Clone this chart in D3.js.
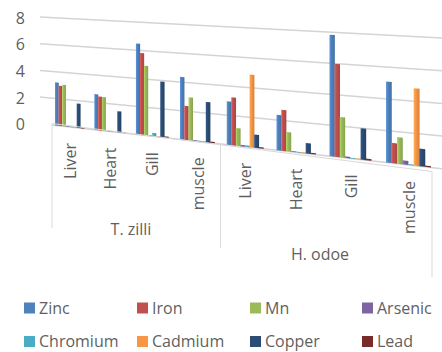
<!DOCTYPE html>
<html>
<head>
<meta charset="utf-8">
<script src="https://cdn.jsdelivr.net/npm/d3@7"></script>
<style>
  html, body { margin: 0; padding: 0; background: #fff; }
  svg { display: block; }
  text { font-family: "Open Sans", "Noto Sans", sans-serif; fill: #5f5f5f; }
</style>
</head>
<body>
<svg id="chart" width="442" height="352"></svg>
<script>
// ---- data ----
const speciesNames = ["T. zilli", "H. odoe"];
const organNames = ["Liver", "Heart", "Gill", "muscle"];
const seriesNames = ["Zinc", "Iron", "Mn", "Arsenic", "Chromium", "Cadmium", "Copper", "Lead"];
const seriesColors = ["#4f81bd", "#c0504d", "#9bbb59", "#8064a2", "#4bacc6", "#f79646", "#2c4d75", "#772c2a"];
const yTicks = [0, 2, 4, 6, 8];

// values per metal, one entry per organ (T. zilli Liver..muscle, then H. odoe Liver..muscle)
const zinc     = [3.20, 2.60, 6.48, 4.35, 2.94, 2.34, 7.83, 5.08];
const iron     = [2.97, 2.45, 5.82, 2.36, 3.24, 2.71, 5.98, 1.27];
const mn       = [3.07, 2.44, 4.94, 2.98, 1.19, 1.27, 2.59, 1.66];
const arsenic  = [0.05, 0.05, 0.05, 0.05, 0.10, 0.05, 0.10, 0.25];
const chromium = [0.05, 0.05, 0.25, 0.05, 0.10, 0.05, 0.05, 0.05];
const cadmium  = [0.05, 0.05, 0.05, 0.05, 4.87, 0.05, 0.05, 4.79];
const copper   = [1.79, 1.52, 3.92, 2.77, 0.88, 0.68, 2.00, 1.09];
const lead     = [0.08, 0.08, 0.10, 0.08, 0.08, 0.08, 0.10, 0.08];
const seriesValues = [zinc, iron, mn, arsenic, chromium, cadmium, copper, lead];

// categories: organ within species
const categories = [];
speciesNames.forEach(s => organNames.forEach(o => categories.push({ species: s, organ: o })));

const svg = d3.select("#chart");

// ---- perspective setup ----
// world x (in category units) -> screen x through a one-point perspective
const persp = u => { const t = u / 7; return (257.3 * t + 55) / (1 - 0.191 * t); };
const catScale = d3.scaleBand().domain(d3.range(categories.length)).range([0, categories.length]);
const serScale = d3.scaleBand().domain(seriesNames).range([0, 0.745]);

// back wall: floor line and unit height both change linearly across the screen
const floorY = d3.scaleLinear().domain([40, 442]).range([123.7, 168.7]);
const wallH = d3.scaleLinear().domain([40, 442]).range([8 * 13.33, 8 * 16.33]);
const yScale = d3.scaleLinear().domain([0, 8]).range([0, 1]);
const yAt = (x, v) => floorY(x) - yScale(v) * wallH(x);

// ---- gridlines ----
const gx0 = 40, gx1 = 442;
svg.append("g").selectAll("line").data(yTicks).join("line")
  .attr("x1", d => d === 0 ? 52 : gx0).attr("x2", gx1)
  .attr("y1", d => yAt(d === 0 ? 52 : gx0, d)).attr("y2", d => yAt(gx1, d))
  .attr("stroke", "#d4d4d4").attr("stroke-width", 1.5);

// y tick labels on the left wall
svg.append("g").selectAll("text").data(yTicks).join("text")
  .attr("x", 25).attr("y", d => yAt(40, d) + 1)
  .attr("dy", "0.35em").attr("text-anchor", "end")
  .attr("font-size", 16).text(d => d);

// ---- gradients for column shading ----
const defs = svg.append("defs");
seriesNames.forEach((s, j) => {
  const c = seriesColors[j];
  const g = defs.append("linearGradient").attr("id", "g" + j)
    .attr("x1", "0%").attr("x2", "100%").attr("y1", "0%").attr("y2", "0%");
  g.append("stop").attr("offset", "0%").attr("stop-color", d3.color(c).brighter(0.45));
  g.append("stop").attr("offset", "35%").attr("stop-color", c);
  g.append("stop").attr("offset", "100%").attr("stop-color", d3.color(c).darker(0.4));
});

// ---- columns ----
const bars = [];
categories.forEach((cat, i) => {
  seriesNames.forEach((s, j) => {
    const u0 = catScale(i) + serScale(s);
    const u1 = u0 + serScale.bandwidth() * 1.05;
    bars.push({ i, j, v: seriesValues[j][i], x0: persp(u0), x1: persp(u1) });
  });
});

svg.append("g").selectAll("path").data(bars).join("path")
  .attr("d", b => {
    const p = d3.path();
    p.moveTo(b.x0, floorY(b.x0));
    p.lineTo(b.x0, yAt(b.x0, b.v));
    p.lineTo(b.x1, yAt(b.x1, b.v));
    p.lineTo(b.x1, floorY(b.x1));
    p.closePath();
    return p.toString();
  })
  .attr("fill", b => `url(#g${b.j})`);

// ---- category axis box ----
const frontY = d3.scaleLinear().domain([52, 432]).range([123.5, 171.5]);
const boxLines = [
  { x: 52, y2: 228 },
  { x: 220.5, y2: 248 },
  { x: 432, y2: 277 }
];
svg.append("line")
  .attr("x1", 52).attr("y1", frontY(52)).attr("x2", 432).attr("y2", frontY(432))
  .attr("stroke", "#d9d9d9").attr("stroke-width", 1);
svg.append("g").selectAll("line").data(boxLines).join("line")
  .attr("x1", d => d.x).attr("x2", d => d.x)
  .attr("y1", d => frontY(d.x)).attr("y2", d => d.y2)
  .attr("stroke", "#d9d9d9").attr("stroke-width", 1);

// organ labels, rotated
svg.append("g").selectAll("text").data(categories).join("text")
  .attr("transform", (d, i) => {
    const xc = persp(catScale(i) + 0.39);
    return `translate(${xc},${floorY(xc) + 16}) rotate(-90)`;
  })
  .attr("text-anchor", "end").attr("dy", "0.35em")
  .attr("font-size", 16).text(d => d.organ);

// species labels
const speciesPos = [{ x: 131, y: 229 }, { x: 320, y: 254 }];
svg.append("g").selectAll("text").data(speciesNames).join("text")
  .attr("x", (d, i) => speciesPos[i].x).attr("y", (d, i) => speciesPos[i].y)
  .attr("dy", "0.35em").attr("text-anchor", "middle")
  .attr("font-size", 16).text(d => d);

// ---- legend ----
const legX = [24, 137, 250, 362];
const legY = [308, 341.5];
const leg = svg.append("g").selectAll("g").data(seriesNames).join("g")
  .attr("transform", (d, j) => `translate(${legX[j % 4]},${legY[Math.floor(j / 4)]})`);
leg.append("rect").attr("x", 0).attr("y", -5.5).attr("width", 11).attr("height", 11)
  .attr("fill", (d, j) => seriesColors[j]);
leg.append("text").attr("x", 15).attr("y", 0).attr("dy", "0.35em")
  .attr("font-size", 16).text(d => d);
</script>
</body>
</html>
